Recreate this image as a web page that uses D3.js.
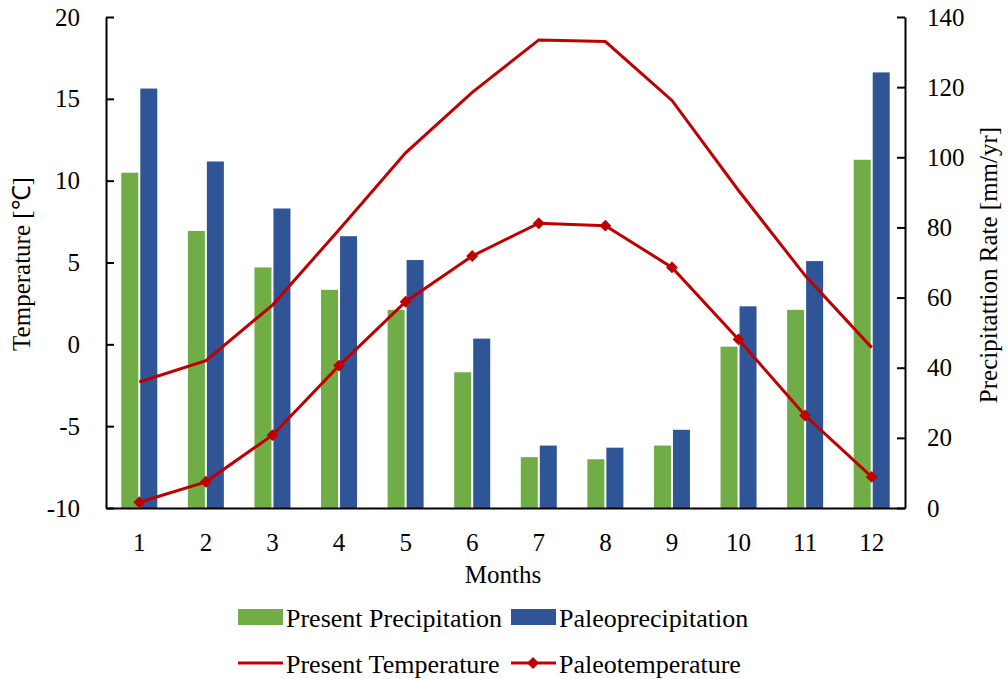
<!DOCTYPE html>
<html>
<head>
<meta charset="utf-8">
<script src="https://cdn.jsdelivr.net/npm/d3@7"></script>
<style>
  body { margin: 0; background: #fff; }
  text { font-family: "Liberation Serif", "Times New Roman", serif; fill: #000; }
</style>
</head>
<body>
<svg id="chart" width="1008" height="679"></svg>
<script>
const months = [1, 2, 3, 4, 5, 6, 7, 8, 9, 10, 11, 12]
const presentPrecip = [95.6, 79, 68.6, 62.2, 56.5, 38.7, 14.5, 13.9, 17.8, 46, 56.5, 99.3]
const paleoPrecip = [119.6, 98.8, 85.4, 77.5, 70.7, 48.3, 17.8, 17.2, 22.3, 57.5, 70.4, 124.2]
const presentTemp = [-2.3, -1.0, 2.4, 7.0, 11.7, 15.4, 18.6, 18.5, 14.9, 9.4, 4.2, -0.2]
const paleoTemp = [-9.65, -8.4, -5.55, -1.3, 2.6, 5.4, 7.4, 7.25, 4.7, 0.3, -4.35, -8.1]
const tempTicks = [-10, -5, 0, 5, 10, 15, 20]
const precipTicks = [0, 20, 40, 60, 80, 100, 120, 140]

const svg = d3.select('#chart')
const plotLeft = 106, plotRight = 905, plotTop = 17, plotBottom = 508
const fontSize = '25px'

const x = d3.scaleBand().domain(months).range([plotLeft, plotRight])
const yT = d3.scaleLinear().domain([-10, 20]).range([plotBottom, plotTop])
const yP = d3.scaleLinear().domain([0, 140]).range([plotBottom, plotTop])

const barW = 17, gap = 2
const red = '#C00000'

// bars
const barG = svg.append('g')
barG.selectAll('rect.present')
  .data(months)
  .enter()
  .append('rect')
    .attr('x', d => x(d) + x.bandwidth() / 2 - barW - gap / 2)
    .attr('y', (d, i) => yP(presentPrecip[i]))
    .attr('width', barW)
    .attr('height', (d, i) => yP(0) - yP(presentPrecip[i]))
    .attr('fill', '#70AD47')
barG.selectAll('rect.paleo')
  .data(months)
  .enter()
  .append('rect')
    .attr('x', d => x(d) + x.bandwidth() / 2 + gap / 2)
    .attr('y', (d, i) => yP(paleoPrecip[i]))
    .attr('width', barW)
    .attr('height', (d, i) => yP(0) - yP(paleoPrecip[i]))
    .attr('fill', '#2F5597')

// lines
const line = d3.line()
  .x((d, i) => x(months[i]) + x.bandwidth() / 2)
  .y(d => yT(d))

svg.append('path')
  .datum(presentTemp)
  .attr('d', line)
  .attr('fill', 'none')
  .attr('stroke', red)
  .attr('stroke-width', 3)

svg.append('path')
  .datum(paleoTemp)
  .attr('d', line)
  .attr('fill', 'none')
  .attr('stroke', red)
  .attr('stroke-width', 3)

const diamond = d3.symbol().type(d3.symbolDiamond2).size(90)
svg.append('g')
  .selectAll('path')
  .data(paleoTemp)
  .enter()
  .append('path')
    .attr('d', diamond)
    .attr('transform', (d, i) => `translate(${x(months[i]) + x.bandwidth() / 2},${yT(d)})`)
    .attr('fill', red)

// axes
const leftAxis = svg.append('g')
  .attr('transform', `translate(${plotLeft},0)`)
  .call(d3.axisLeft(yT).tickValues(tempTicks).tickSizeInner(-8).tickSizeOuter(0).tickPadding(26))
const rightAxis = svg.append('g')
  .attr('transform', `translate(${plotRight},0)`)
  .call(d3.axisRight(yP).tickValues(precipTicks).tickSizeInner(-8).tickSizeOuter(0).tickPadding(22))
const bottomAxis = svg.append('g')
  .attr('transform', `translate(0,${plotBottom})`)
  .call(d3.axisBottom(x).tickSize(0).tickPadding(25))

;[leftAxis, rightAxis, bottomAxis].forEach(a => {
  a.selectAll('path.domain').attr('stroke', '#000').attr('stroke-width', 2)
  a.selectAll('.tick line').attr('stroke', '#000').attr('stroke-width', 2)
  a.selectAll('text')
    .style('font-family', '"Liberation Serif", serif')
    .style('font-size', fontSize)
    .attr('fill', '#000')
})
leftAxis.selectAll('text').text(d => d < 0 ? '-' + Math.abs(d) : d)

// axis titles
svg.append('text')
  .attr('x', 503)
  .attr('y', 583)
  .attr('text-anchor', 'middle')
  .style('font-size', fontSize)
  .text('Months')

svg.append('text')
  .attr('transform', 'translate(30,264) rotate(-90)')
  .attr('text-anchor', 'middle')
  .style('font-size', fontSize)
  .text('Temperature [℃]')

svg.append('text')
  .attr('transform', 'translate(997,265) rotate(-90)')
  .attr('text-anchor', 'middle')
  .style('font-size', fontSize)
  .text('Precipitattion Rate [mm/yr]')

// legend
const legend = svg.append('g')
const legendItems = [
  { label: 'Present Precipitation', type: 'bar', color: '#70AD47', x: 238, y: 617 },
  { label: 'Paleoprecipitation', type: 'bar', color: '#2F5597', x: 511, y: 617 },
  { label: 'Present Temperature', type: 'line', color: red, x: 238, y: 663 },
  { label: 'Paleotemperature', type: 'marker', color: red, x: 511, y: 663 }
]
legendItems.forEach(d => {
  if (d.type === 'bar') {
    legend.append('rect')
      .attr('x', d.x).attr('y', d.y - 8)
      .attr('width', 45).attr('height', 16)
      .attr('fill', d.color)
  } else {
    legend.append('line')
      .attr('x1', d.x).attr('x2', d.x + 45)
      .attr('y1', d.y).attr('y2', d.y)
      .attr('stroke', d.color).attr('stroke-width', 3)
    if (d.type === 'marker') {
      legend.append('path')
        .attr('d', diamond)
        .attr('transform', `translate(${d.x + 22},${d.y})`)
        .attr('fill', d.color)
    }
  }
  legend.append('text')
    .attr('x', d.x + 48)
    .attr('y', d.y + 10)
    .style('font-size', '26px')
    .text(d.label)
})
</script>
</body>
</html>
